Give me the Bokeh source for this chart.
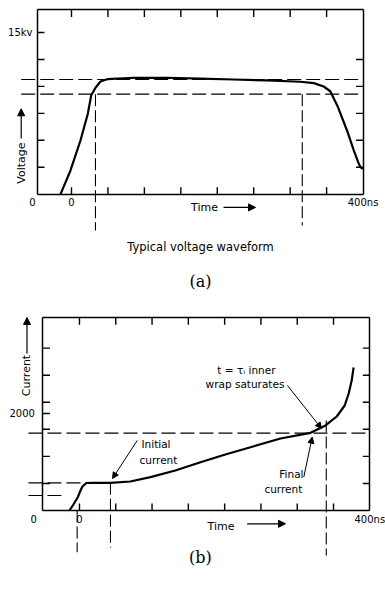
import math
from bokeh.plotting import figure
from bokeh.models import (Range1d, FixedTicker, LinearAxis, Label, Arrow,
                          NormalHead, Grid)
from bokeh.layouts import column
from bokeh.embed import file_html
from bokeh.resources import INLINE

# ---------------- data: panel (a) voltage waveform ----------------
a_time_ns = [-15, -1.4, 12.3, 22.4, 27, 32.9, 39.8, 49, 85.5, 131, 177, 222.7,
             268.5, 314, 332.5, 346, 355, 364.6, 378, 387.4, 394.2, 396.5, 400]
a_voltage_kv = [0, 2.2, 4.98, 7.46, 9.16, 9.87, 10.45, 10.67, 10.8, 10.8, 10.73,
                10.64, 10.55, 10.43, 10.3, 9.99, 9.55, 8.23, 5.91, 4.05, 2.82, 2.5, 2.36]
a_levels_kv = [10.64, 9.28]            # horizontal dashed reference levels
a_marks_ns = [32.9, 316.6]             # vertical dashed time markers
a_xticks = [0, 50, 100, 150, 200, 250, 300, 350, 400]
a_xlabels = {0: "0", 400: "400ns"}
a_yticks = [2.5, 5, 7.5, 10, 12.5, 15]
a_ylabels = {15: "15kv"}
a_t_min, a_t_max, a_v_max = -46.7, 400, 17.1

# ---------------- data: panel (b) current waveform ----------------
b_time_ns = [-13.8, -8.3, -2.3, 1.4, 4.1, 9.6, 17.9, 42.7, 70, 97.8, 132, 166.7,
             201, 235.6, 277, 318.3, 339, 354.4, 365.4, 370.9, 375, 377.7]
b_current_a = [0, 124, 274, 412, 495, 567, 571, 571, 598, 687, 825, 996,
               1155, 1305, 1485, 1602, 1753, 1938, 2165, 2412, 2680, 2949]
b_final_a = 1594
b_initial_a = 571
b_start_a = 309
b_marks_ns = [-3.2, 42.7, 340]
b_xticks = [0, 50, 100, 150, 200, 250, 300, 350, 400]
b_xlabels = {0: "0", 400: "400ns"}
b_yticks = [558, 1116, 1674, 2000, 2232, 2790, 3348]
b_ylabels = {2000: "2000"}
b_t_min, b_t_max, b_i_max = -50.3, 400, 3973

FONT = "DejaVu Sans"
DASH = "14 5"
W, H = 385, 298
TICK_PX = 7


def make_axis(loc, bounds, ticks, labels=None, standoff=4):
    ax = LinearAxis(fixed_location=loc, bounds=bounds,
                    ticker=FixedTicker(ticks=ticks))
    labels = labels or {}
    ax.major_label_overrides = {k: labels.get(k, "") for k in ticks}
    ax.major_tick_in = 0
    ax.major_tick_out = 0
    ax.major_tick_line_color = None
    ax.minor_tick_line_color = None
    ax.axis_line_width = 1.5
    ax.axis_line_color = "black"
    ax.major_label_text_font = FONT
    ax.major_label_text_font_size = "10px"
    ax.major_label_text_color = "black" if labels else None
    ax.major_label_standoff = standoff
    return ax


def make_frame(p, xmin, xmax, ymax, xticks, xlabels, yticks, ylabels, ystand):
    p.add_layout(make_axis(0, (xmin, xmax), xticks, xlabels, 3), "below")
    p.add_layout(make_axis(xmin, (0, ymax), yticks, ylabels, ystand), "left")
    p.add_layout(make_axis(ymax, (xmin, xmax), xticks), "above")
    p.add_layout(make_axis(xmax, (0, ymax), yticks), "right")
    # inward tick marks on all four sides (length TICK_PX screen pixels)
    dx = (p.x_range.end - p.x_range.start) / W * TICK_PX
    dy = (p.y_range.end - p.y_range.start) / H * TICK_PX
    xt = [t for t in xticks if xmin < t < xmax]
    yt = [t for t in yticks if 0 < t < ymax]
    kw = dict(line_color="black", line_width=1.4)
    p.segment(x0=xt, y0=[0] * len(xt), x1=xt, y1=[dy] * len(xt), **kw)
    p.segment(x0=xt, y0=[ymax] * len(xt), x1=xt, y1=[ymax - dy] * len(xt), **kw)
    p.segment(x0=[xmin] * len(yt), y0=yt, x1=[xmin + dx] * len(yt), y1=yt, **kw)
    yr = [t for t in yt if t not in ylabels]
    p.segment(x0=[xmax] * len(yr), y0=yr, x1=[xmax - dx] * len(yr), y1=yr, **kw)


def text(p, x, y, s, size="11px", align="center", angle=0, font=FONT):
    p.add_layout(Label(x=x, y=y, text=s, text_font=font, text_font_size=size,
                       text_align=align, text_baseline="middle", angle=angle,
                       text_color="black"))


def arrow(p, x0, y0, x1, y1, size=7, lw=1.2):
    p.add_layout(Arrow(x_start=x0, y_start=y0, x_end=x1, y_end=y1,
                       line_width=lw, line_color="black",
                       end=NormalHead(size=size, fill_color="black",
                                      line_color="black")))


def base_fig(xr, yr):
    p = figure(width=W, height=H, x_range=Range1d(*xr), y_range=Range1d(*yr),
               output_backend="svg", toolbar_location=None,
               x_axis_location=None, y_axis_location=None, min_border=0,
               outline_line_color=None, background_fill_color="white",
               border_fill_color="white")
    for g in p.select(type=Grid):
        g.visible = False
    return p


# ---------------- panel (a) ----------------
pa = base_fig((-97.4, 430.8), (-9.68, 17.97))
make_frame(pa, a_t_min, a_t_max, a_v_max, a_xticks, a_xlabels, a_yticks, a_ylabels, 5)

pa.segment(x0=[-69] * len(a_levels_kv), y0=a_levels_kv,
           x1=[a_t_max] * len(a_levels_kv), y1=a_levels_kv,
           line_color="black", line_width=1.2, line_dash=DASH)
pa.segment(x0=a_marks_ns, y0=[a_levels_kv[1]] * 2, x1=a_marks_ns, y1=[-3.37, -2.9],
           line_color="black", line_width=1.1, line_dash="12 4")
pa.line(a_time_ns, a_voltage_kv, line_color="black", line_width=2.2)

text(pa, -53.5, -0.74, "0", size="10px")
text(pa, 182.5, -1.21, "Time", size="11px")
arrow(pa, 208.6, -1.23, 252.5, -1.23)
text(pa, -69, 2.89, "Voltage", size="11px", angle=math.pi / 2)
arrow(pa, -69, 5.17, -69, 7.92)
text(pa, 177, -4.92, "Typical voltage waveform", size="11.5px")
text(pa, 177, -8.1, "(a)", size="16px", font="DejaVu Serif")

# ---------------- panel (b) ----------------
pb = base_fig((-108.8, 421.6), (-1773, 4371))
make_frame(pb, b_t_min, b_t_max, b_i_max, b_xticks, b_xlabels, b_yticks, b_ylabels, 8)

pb.segment(x0=[-70.3, -70.3, -70.3], y0=[b_final_a, b_initial_a, b_start_a],
           x1=[b_t_max, 42.7, -19.3], y1=[b_final_a, b_initial_a, b_start_a],
           line_color="black", line_width=1.2, line_dash=DASH)
pb.segment(x0=b_marks_ns, y0=[0, b_initial_a, 1856], x1=b_marks_ns,
           y1=[-860, -763, -928],
           line_color="black", line_width=1.1, line_dash="12 4")
pb.line(b_time_ns, b_current_a, line_color="black", line_width=2.2)

text(pb, -63, -165, "0", size="10px")
text(pb, 195, -330, "Time", size="11px")
arrow(pb, 231, -274, 283.8, -274)
text(pb, -72.3, 2784, "Current", size="11px", angle=math.pi / 2)
arrow(pb, -72.3, 3237, -72.3, 3980)

text(pb, 230, 2887, "t = τᵢ inner", size="10.5px")
text(pb, 228, 2612, "wrap saturates", size="10.5px")
arrow(pb, 286.6, 2577, 333.4, 1691, size=6, lw=1)
text(pb, 85.4, 1375, "Initial", size="10.5px", align="left")
text(pb, 82.7, 1045, "current", size="10.5px", align="left")
arrow(pb, 79.5, 1443, 45.5, 660, size=6, lw=1)
text(pb, 308.6, 757, "Final", size="10.5px", align="right")
text(pb, 307, 447, "current", size="10.5px", align="right")
arrow(pb, 309, 687, 320.6, 1512, size=6, lw=1)
text(pb, 166.7, -963, "(b)", size="16px", font="DejaVu Serif")

layout = column(pa, pb, spacing=0)
open("out.html", "w").write(file_html(layout, INLINE))
